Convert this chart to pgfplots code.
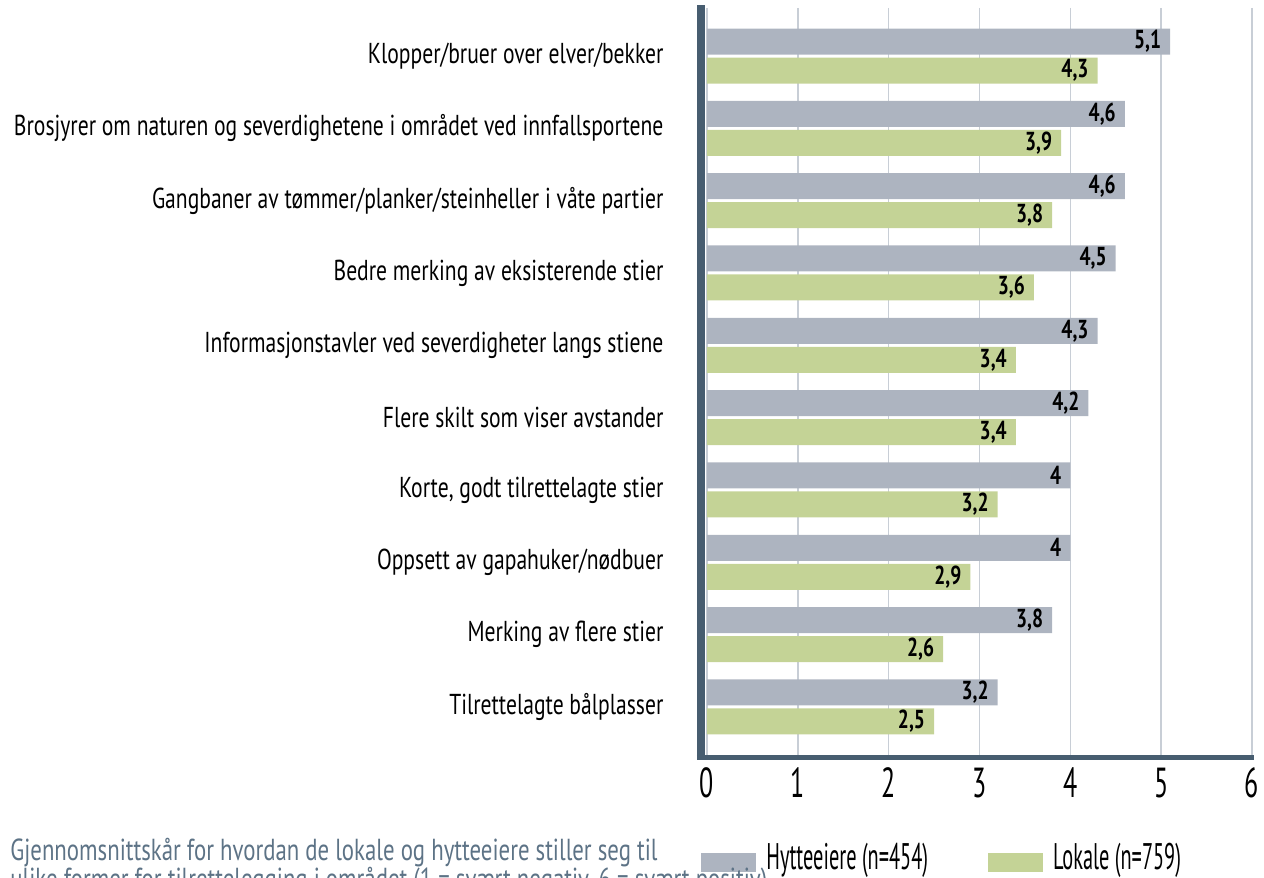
\documentclass[border=0pt]{standalone}
\usepackage{fontspec}
\setmainfont{PT Sans}[FakeStretch=0.75]
\newfontfamily\legendfont{PT Sans}[FakeStretch=0.62]
\newfontfamily\legendnarrow{PT Sans}[FakeStretch=0.55]
\usepackage{pgfplots}
\pgfplotsset{compat=1.18}
\usetikzlibrary{calc}
\definecolor{barGray}{HTML}{ADB4C0}
\definecolor{barGreen}{HTML}{C4D396}
\definecolor{axisSlate}{HTML}{475D70}
\definecolor{gridGray}{HTML}{C8CED6}
\definecolor{captionSlate}{HTML}{5D7386}

\begin{document}
\begin{tikzpicture}
\begin{axis}[name=ax,scale only axis,width=272.5pt,height=373.5pt,
  xbar,bar width=13pt,
  xmin=0,xmax=6,xtick={0,1,2,3,4,5,6},
  y dir=reverse,ymin=-0.664,ymax=9.664,ytick={0,...,9},
  yticklabels={Klopper/bruer over elver/bekker,
    Brosjyrer om naturen og severdighetene i området ved innfallsportene,
    Gangbaner av tømmer/planker/steinheller i våte partier,
    Bedre merking av eksisterende stier,
    Informasjonstavler ved severdigheter langs stiene,
    Flere skilt som viser avstander,
    {Korte, godt tilrettelagte stier},
    Oppsett av gapahuker/nødbuer,
    Merking av flere stier,
    Tilrettelagte bålplasser},
  axis line style={draw=none},
  xmajorgrids,grid style={draw=gridGray,line width=0.8pt},
  major tick style={draw=none},
  /pgf/number format/assume math mode=true,
  xticklabel style={font=\legendfont\fontsize{21}{24}\selectfont,yshift=-3pt},
  yticklabel style={font=\fontsize{14.4}{17}\selectfont,anchor=east,xshift=-14pt},
  nodes near coords={\pgfmathprintnumber[use comma,assume math mode=true]{\pgfplotspointmeta}},
  every node near coord/.append style={font=\bfseries\fontsize{13}{15}\selectfont,anchor=east,xshift=-1pt},
  legend columns=2,
  legend style={draw=none,fill=none,inner sep=0pt,font=\legendnarrow\fontsize{18.5}{20}\selectfont,
    at={(rel axis cs:-0.011,-0.138)},anchor=west,
    /tikz/every odd column/.append style={column sep=3pt},
    /tikz/every even column/.append style={column sep=28pt}},
  legend image code/.code={\fill[#1] (0pt,-7pt) rectangle (27.5pt,2.5pt);},
  clip=false]
\addplot[fill=barGray,draw=none,bar shift=7.25pt] coordinates
  {(5.1,0)(4.6,1)(4.6,2)(4.5,3)(4.3,4)(4.2,5)(4,6)(4,7)(3.8,8)(3.2,9)};
\addplot[fill=barGreen,draw=none,bar shift=-7.25pt] coordinates
  {(4.3,0)(3.9,1)(3.8,2)(3.6,3)(3.4,4)(3.4,5)(3.2,6)(2.9,7)(2.6,8)(2.5,9)};
\legend{Hytteeiere (n=454),Lokale (n=759)}
\end{axis}
\draw[axisSlate,line width=4pt] ($(ax.south west)+(-3pt,-1.2pt)$) -- ($(ax.north west)+(-3pt,1.5pt)$);
\draw[axisSlate,line width=2.6pt] ($(ax.south west)+(-5pt,-1.2pt)$) -- ($(ax.south east)+(1pt,-1.2pt)$);
\node[anchor=north west,inner sep=0pt,align=left,text=captionSlate,font=\fontsize{15.2}{14.5}\selectfont]
  at ($(ax.south west)+(-348.5pt,-41.5pt)$)
  {Gjennomsnittskår for hvordan de lokale og hytteeiere stiller seg til\\
   ulike former for tilrettelegging i området (1 = svært negativ, 6 = svært positiv)};
\pgfresetboundingbox
\path[use as bounding box] ($(ax.south west)+(-353.5pt,-61.5pt)$) rectangle ($(ax.north east)+(6pt,4pt)$);
\end{tikzpicture}
\end{document}
